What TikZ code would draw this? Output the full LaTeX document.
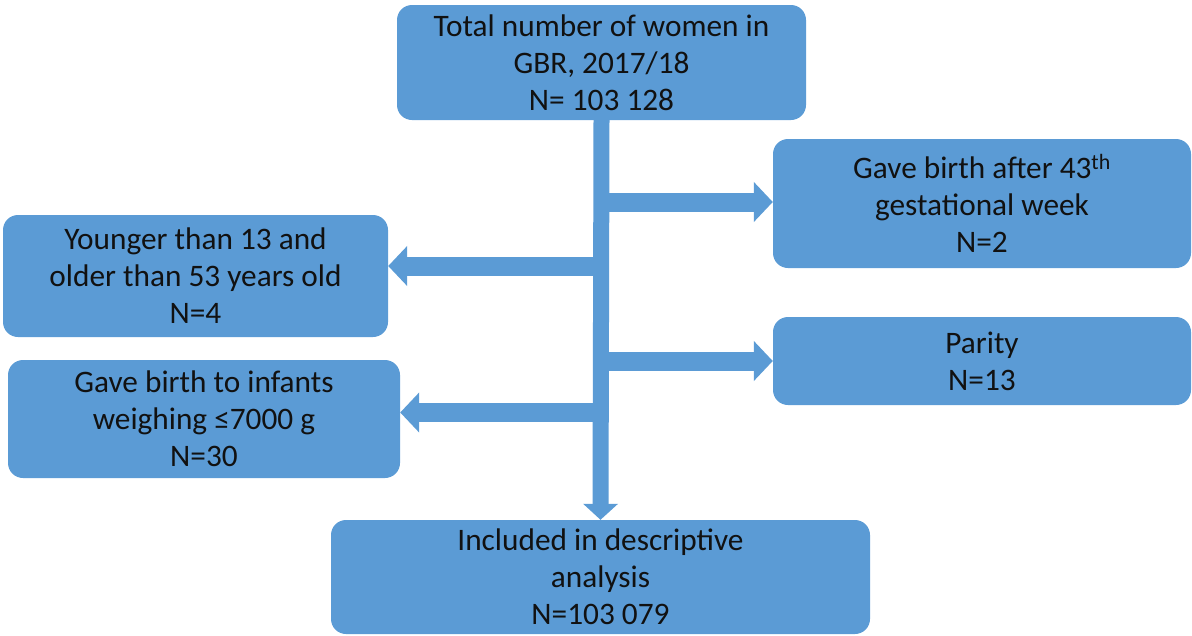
\documentclass[tikz,border=0pt]{standalone}
\usepackage{fontspec}
\setmainfont{Carlito}
\usetikzlibrary{arrows.meta}
\definecolor{boxblue}{HTML}{5B9BD5}
\definecolor{boxtext}{HTML}{111111}
\tikzset{
	box/.style={fill=boxblue, rounded corners=15pt, inner sep=0pt, align=center,
		text=boxtext, font=\fontsize{31.3}{37}\selectfont},
	flow/.style={line width=16pt, draw=boxblue, -{Triangle[width=34pt,length=16pt]}},
	branch/.style={line width=19pt, draw=boxblue, -{Triangle[width=39pt,length=19pt]}}
}
\begin{document}
\begin{tikzpicture}[x=1pt,y=-1pt]
	\useasboundingbox (0,0) rectangle (1192,635);
	
	\node[box, minimum width=409pt, minimum height=115pt] (total) at (601.5,62.5)
		{Total number of women in\\GBR, 2017/18\\N= 103 128};
	\node[box, minimum width=418pt, minimum height=129pt] (late) at (982,203.5)
		{Gave birth after 43\textsuperscript{th}\\gestational week\\N=2};
	\node[box, minimum width=385pt, minimum height=122pt] (age) at (195.5,276)
		{Younger than 13 and\\older than 53 years old\\N=4};
	\node[box, minimum width=418pt, minimum height=88pt] (parity) at (982,361)
		{Parity\\N=13};
	\node[box, minimum width=392pt, minimum height=118pt] (weight) at (204,419)
		{Gave birth to infants\\weighing ≤7000 g\\N=30};
	\node[box, minimum width=539pt, minimum height=114pt] (incl) at (600.5,577)
		{Included in descriptive\\analysis\\N=103 079};
	
	% branch points on the trunk
	\coordinate (b1) at (600,202);
	\coordinate (b2) at (600,266);
	\coordinate (b3) at (600,361);
	\coordinate (b4) at (600,412.5);
	
	\draw[branch] (b1) -- (b1 -| late.west);
	\draw[branch] (b2) -- (b2 -| age.east);
	\draw[branch] (b3) -- (b3 -| parity.west);
	\draw[branch] (b4) -- (b4 -| weight.east);
	\draw[flow] (total.south) -- (incl.north);
	
\end{tikzpicture}
\end{document}
